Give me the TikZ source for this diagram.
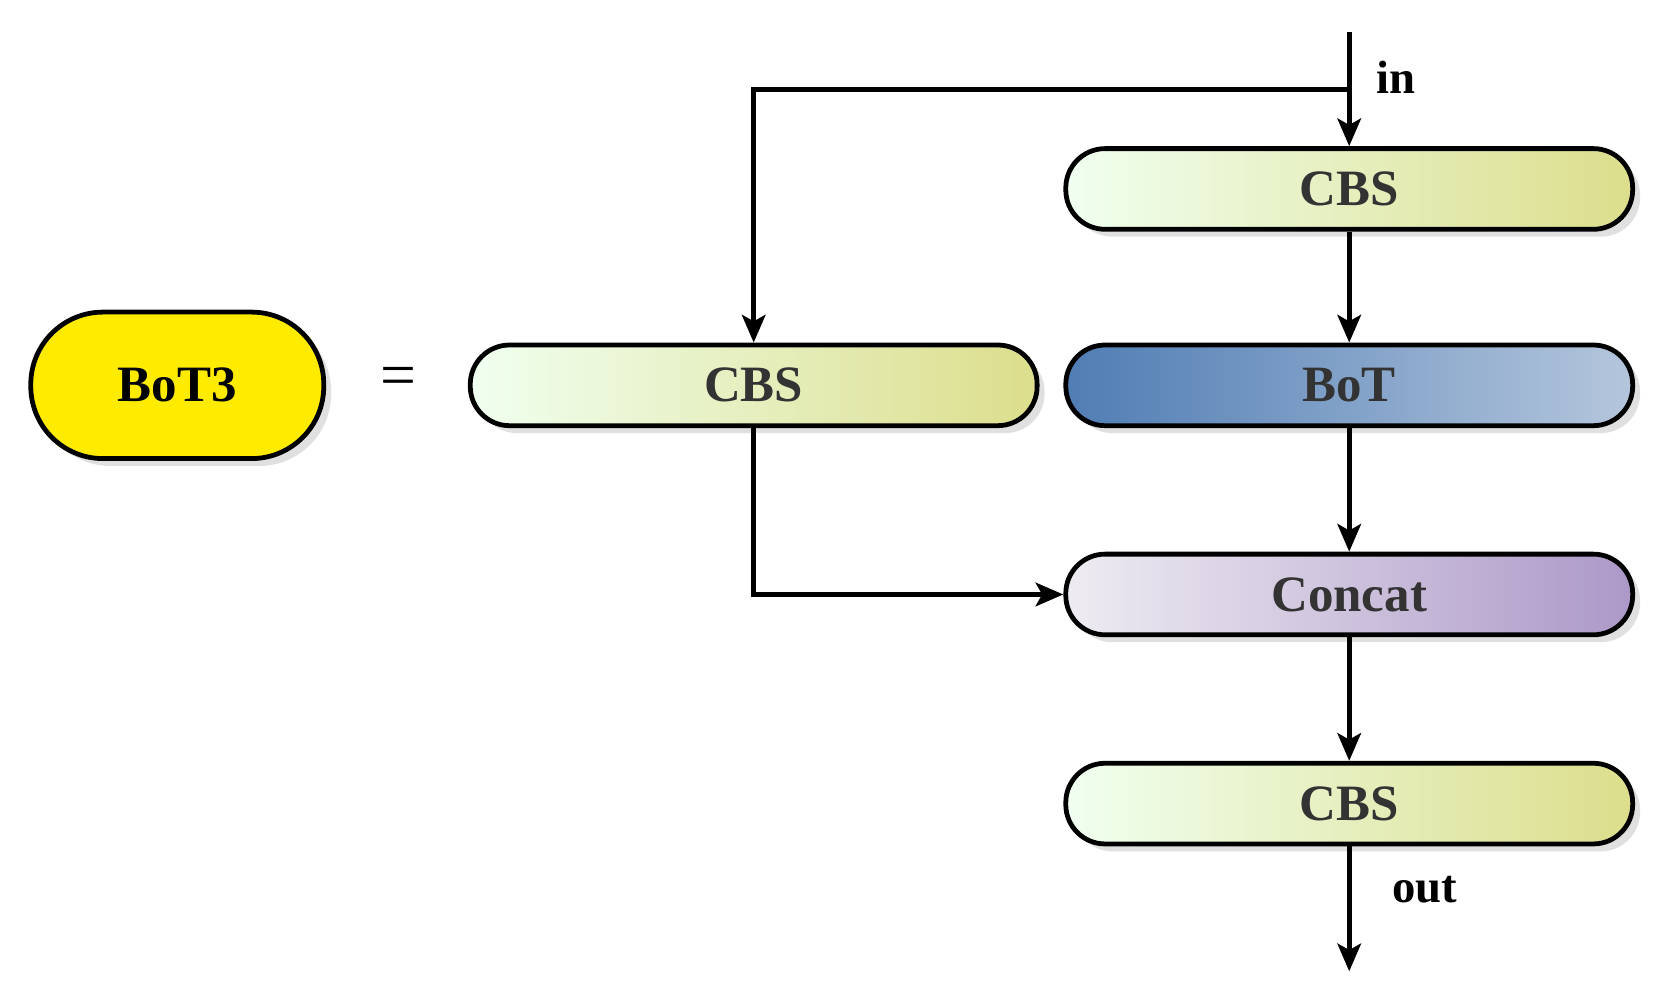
\documentclass[tikz,border=0pt]{standalone}
\usepackage{fontspec}
\setmainfont{Liberation Serif}
\usetikzlibrary{shadows,arrows.meta}
\definecolor{txt}{HTML}{333333}
\begin{document}
\begin{tikzpicture}[x=1pt,y=-1pt,
  blk/.style={draw=black,line width=4.5pt,rounded corners=37pt,minimum width=534pt,minimum height=76pt,
    inner sep=0pt,font=\fontsize{48}{50}\selectfont\bfseries,text=txt,
    drop shadow={shadow xshift=7pt,shadow yshift=-7pt,fill=black!12,opacity=1}},
  cbs/.style={blk,left color=green!6!white,right color={rgb,255:red,220;green,222;blue,140}},
  bot/.style={blk,left color={rgb,255:red,80;green,125;blue,180},right color={rgb,255:red,180;green,198;blue,220}},
  cat/.style={blk,left color={rgb,255:red,238;green,236;blue,242},right color={rgb,255:red,172;green,152;blue,200}},
  ar/.style={line width=5pt,-{Stealth[length=26pt,width=22pt,inset=6pt]}},
  ln/.style={line width=5pt}]
\useasboundingbox (0,0) rectangle (1560,935);
\node[blk,minimum width=276pt,minimum height=138pt,rounded corners=68pt,fill={rgb,255:red,255;green,235;blue,0},text=black] (b3) at (167,363) {BoT3};
\node[font=\fontsize{60}{60}\selectfont] (eq) at (375,360) {=};
\node[cbs] (c1) at (1271,178) {CBS};
\node[cbs] (c2) at (710,363) {CBS};
\node[bot] (bt) at (1271,363) {BoT};
\node[cat] (cc) at (1271,560) {Concat};
\node[cbs] (c3) at (1271,757) {CBS};
\coordinate (in) at (1271,30);
\coordinate (br) at (1271,84);
\coordinate (out) at (1271,915);
\node[font=\fontsize{44}{44}\selectfont\bfseries,anchor=west] (inl) at (1293,73) {in};
\node[font=\fontsize{44}{44}\selectfont\bfseries,anchor=west] (outl) at (1308,838) {out};
\draw[ar] (in) -- (c1.north);
\draw[ar] (br) -| (c2.north);
\draw[ar] (c1) -- (bt);
\draw[ar] (bt) -- (cc);
\draw[ar] (c2.south) |- (cc.west);
\draw[ar] (cc) -- (c3);
\draw[ar] (c3.south) -- (out);
\end{tikzpicture}
\end{document}
